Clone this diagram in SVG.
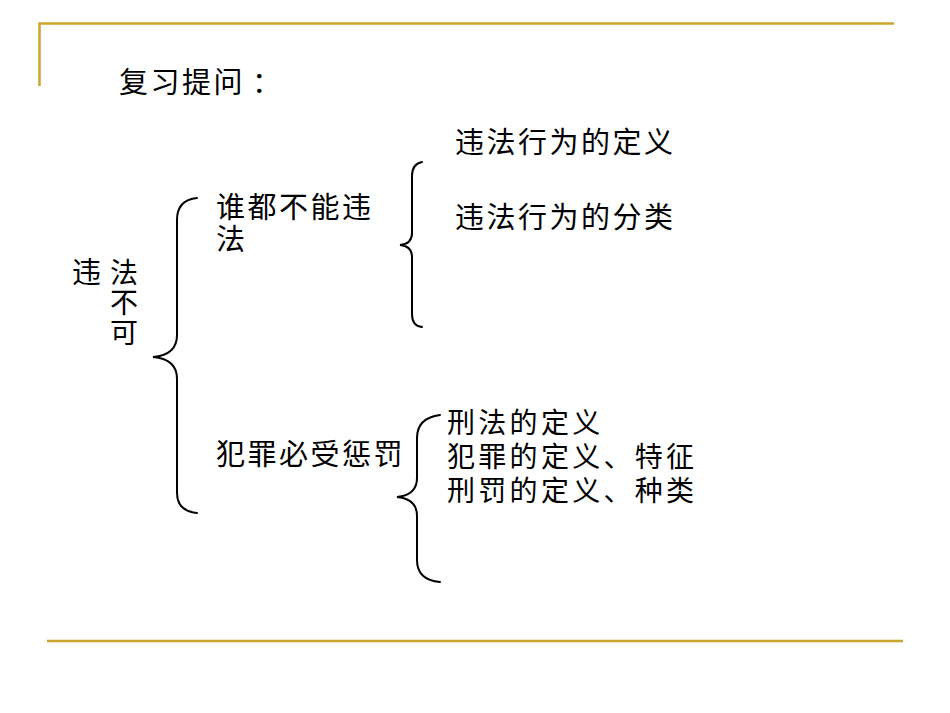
<svg xmlns="http://www.w3.org/2000/svg" width="950" height="713" viewBox="0 0 950 713">
<style>
.t{font-family:"Noto Sans CJK SC","Noto Sans",sans-serif;font-size:29px;fill:#000;letter-spacing:2.5px}
.s{font-size:28px;letter-spacing:3.3px}
.br{fill:none;stroke:#000;stroke-width:2;stroke-linecap:round}
.rule{stroke:#CBA52E;stroke-width:2.5;fill:none}
</style>
<rect width="950" height="713" fill="#fff"/>
<g id="frame">
<path class="rule" d="M39.5,86 L39.5,23.5 L894,23.5"/>
<line class="rule" x1="47" y1="641" x2="903" y2="641"/>
</g>
<g id="title"><text class="t" x="119" y="93">复习提问<tspan x="252">：</tspan></text></g>
<g id="root">
<text class="t" x="72" y="283">违</text>
<text class="t s" x="110" y="283">法<tspan x="110" dy="30">不</tspan><tspan x="110" dy="30">可</tspan></text>
</g>
<g id="n1"><text class="t" x="216" y="218">谁都不能违<tspan x="216" dy="32">法</tspan></text></g>
<g id="n2"><text class="t" x="216" y="465">犯罪必受惩罚</text></g>
<g id="n1a"><text class="t" x="455" y="153">违法行为的定义</text></g>
<g id="n1b"><text class="t" x="455" y="228">违法行为的分类</text></g>
<g id="n2a"><text class="t s" x="447" y="433">刑法的定义</text></g>
<g id="n2b"><text class="t s" x="447" y="467">犯罪的定义、特征</text></g>
<g id="n2c"><text class="t s" x="447" y="501">刑罚的定义、种类</text></g>
<g id="connectors">
<path class="br" d="M197,198 Q177,200 177,220 L177,335 Q177,355 153,357 Q177,359 177,379 L177,493 Q177,511 197,513"/>
<path class="br" d="M422,162 Q412,164 412,176 L412,233 Q412,244 400,245 Q412,246 412,257 L412,314 Q412,326 422,327"/>
<path class="br" d="M440,415 Q417,418 417,438 L417,478 Q417,495 397,497 Q417,499 417,516 L417,560 Q417,580 440,582"/>
</g>
</svg>
